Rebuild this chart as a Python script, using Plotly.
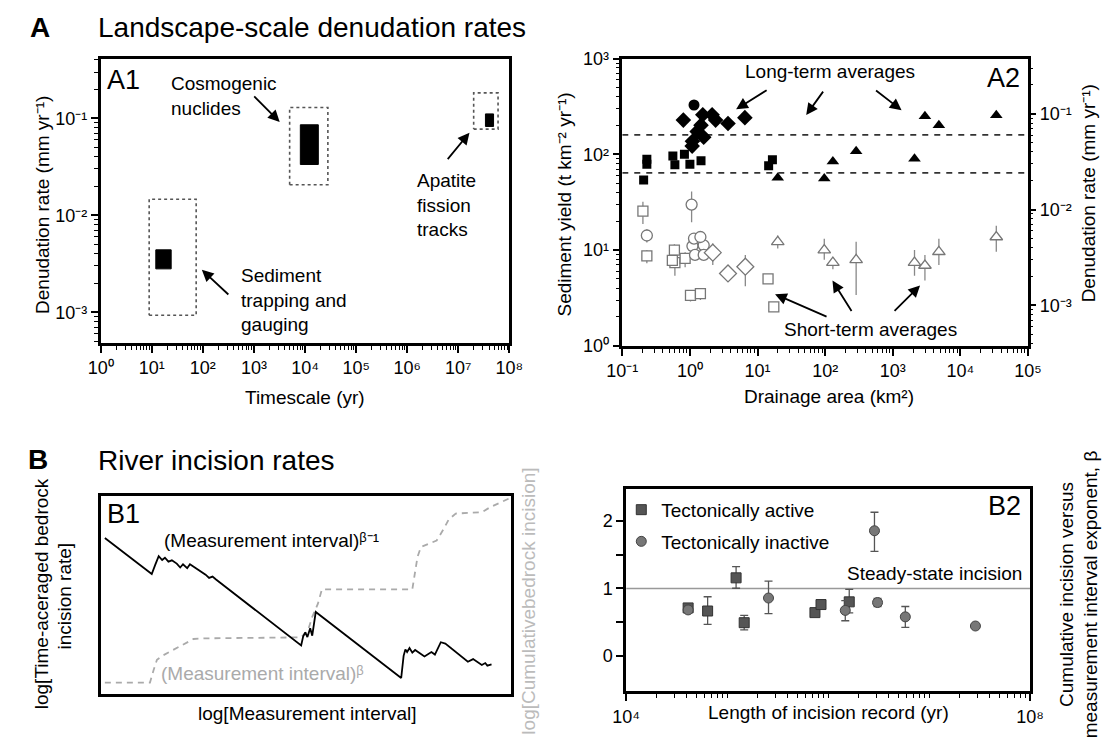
import plotly.graph_objects as go

W, H = 1117, 749
FONT = "Liberation Sans, Arial, sans-serif"

# ---------------- A1 data (timescale yr, denudation mm/yr) ----------------
a1_methods = ["Sediment trapping and gauging", "Cosmogenic nuclides", "Apatite fission tracks"]
a1_range_t_min = [8.9, 5000, 2.0e7]
a1_range_t_max = [74, 28000, 6.0e7]
a1_range_d_min = [0.00093, 0.0206, 0.0774]
a1_range_d_max = [0.0146, 0.129, 0.183]
a1_core_t_min = [12, 8100, 3.4e7]
a1_core_t_max = [24, 18200, 4.9e7]
a1_core_d_min = [0.0028, 0.0334, 0.0824]
a1_core_d_max = [0.0044, 0.0857, 0.111]

# ---------------- A2 data (drainage area km2, sediment yield t/km2/yr) ----------------
lt_dia_x = [0.80, 1.55, 2.13, 2.40, 3.66, 6.5, 1.46, 1.28, 1.60, 1.09, 1.08]
lt_dia_y = [228, 259, 259, 228, 210, 242, 202, 173, 151, 137, 122]
lt_circ_x = [1.15]
lt_circ_y = [328]
lt_sq_x = [0.207, 0.231, 0.231, 0.56, 0.60, 0.83, 1.0, 1.46, 14.6, 16.6]
lt_sq_y = [54, 89, 79, 96, 78, 100, 79, 86, 76, 88]
lt_tri_x = [19.9, 97, 130, 287, 2094, 2985, 4800, 33900]
lt_tri_y = [57, 56, 84, 108, 90, 250, 202, 256]

st_tri_x = [19.9, 97, 130, 287, 2094, 2985, 4800, 33900]
st_tri_y = [12.2, 10, 7.4, 7.9, 7.4, 6.9, 9.6, 13.7]
st_tri_hi = [14.2, 13.1, 8.2, 12.2, 10, 8.9, 13.1, 18]
st_tri_lo = [10.4, 7.9, 6.3, 3.4, 5.4, 4.8, 7.0, 9.6]

st_sq_x = [0.202, 0.231, 0.59, 0.60, 0.55, 0.85, 1.02, 1.43, 14.3, 17.4]
st_sq_y = [25.5, 8.7, 10, 7.4, 7.8, 8.2, 3.36, 3.5, 5.0, 2.55]
st_sq_hi = [32, 10, 11.5, 8.6, 9.0, 9.5, 3.8, 4.0, 5.0, 2.7]
st_sq_lo = [18.7, 7.3, 8.5, 5.4, 6.5, 6.6, 2.9, 3.0, 5.0, 2.4]

st_circ_x = [0.231, 1.06, 1.09, 1.15, 1.19, 1.6, 1.6, 1.43]
st_circ_y = [14.2, 29.9, 11, 13.2, 8.9, 11.2, 8.9, 13.7]
st_circ_hi = [16.5, 41, 12.5, 15, 10, 12.5, 10, 15]
st_circ_lo = [12.0, 19.5, 9.8, 11.5, 7.8, 10, 7.8, 12]

st_dia_x = [2.18, 3.66, 6.6]
st_dia_y = [9.4, 5.7, 6.7]
st_dia_hi = [11.7, 6.6, 8.9]
st_dia_lo = [7.0, 4.8, 4.2]

a2_ref_yields = [160, 64]
a2_x_ends = [0.1, 1e5]

# ---------------- B1 schematic (normalised) ----------------
b1_rate_x = [.0102, .1244, .1328, .1413, .1497, .1565, .1650, .1734, .1853, .1937, .2005, .2107, .2174,
             .2327, .2555, .2640, .2724, .2809, .4882, .4932, .4983, .5034, .5102, .5152, .5186, .5237,
             .7318, .7377, .7420, .7462, .7521, .7589, .7657, .7885, .8054, .8139, .8283, .8393, .8942,
             .9069, .9281, .9365, .9416, .9518]
b1_rate_y = [.787, .6056, .6514, .6956, .6759, .6874, .6678, .6743, .6579, .6383, .6547, .6350, .6547,
             .6350, .6023, .5859, .5925, .5777, .2455, .2913, .3110, .2881, .3322, .2946, .3535, .4141,
             .0818, .1931, .2259, .2128, .2324, .2095, .2226, .1899, .2128, .1997, .2619, .2553, .1637,
             .1768, .1473, .1571, .1440, .1506]
b1_cum_x = [.0102, .1201, .1286, .1371, .1497, .1667, .1920, .2090, .2259, .2555, .4882, .5051, .5152,
            .5288, .5389, .7589, .7640, .7716, .7800, .7970, .8181, .8350, .8477, .8646, .9281, .9492,
            .9704, .9958]
b1_cum_y = [.0589, .0589, .1195, .1735, .1931, .2128, .2422, .2586, .2782, .2815, .2864, .3241, .3895,
            .4550, .5286, .5286, .6023, .6923, .7414, .7578, .7741, .8314, .8805, .9100, .9165, .9427,
            .9624, .9869]

# ---------------- B2 data ----------------
act_x = [41100, 64100, 122700, 147600, 741000, 851000, 1620000]
act_y = [0.71, 0.664, 1.157, 0.49, 0.64, 0.76, 0.80]
act_hi = [0.71, 0.876, 1.325, 0.60, 0.64, 0.76, 0.987]
act_lo = [0.71, 0.466, 1.002, 0.383, 0.64, 0.76, 0.635]
inact_x = [41100, 257000, 2880000, 1480000, 3090000, 5820000, 28800000]
inact_y = [0.68, 0.857, 1.857, 0.673, 0.79, 0.577, 0.441]
inact_hi = [0.68, 1.108, 2.132, 0.818, 0.85, 0.731, 0.441]
inact_lo = [0.68, 0.625, 1.552, 0.519, 0.73, 0.422, 0.441]
steady_x = [1e4, 1e8]
steady_y = [1, 1]

SUP = {"0": "⁰", "1": "¹", "2": "²", "3": "³", "4": "⁴", "5": "⁵", "6": "⁶", "7": "⁷",
       "8": "⁸", "9": "⁹", "-": "⁻"}


def sup(k):
    return "10" + "".join(SUP[c] for c in str(k))


def P(px, py):
    return px / W, 1 - py / H


def dom(a, b, n):
    return [a / n, b / n]


def ydom(top, bottom):
    return [1 - bottom / H, 1 - top / H]


def minor_vals(lo, hi, start=2):
    return [m * 10 ** k for k in range(lo, hi) for m in range(start, 10)]


def errs(y, hi, lo):
    return dict(type="data", symmetric=False,
                array=[h - v for h, v in zip(hi, y)],
                arrayminus=[v - l for v, l in zip(y, lo)])


fig = go.Figure()

# ---- A1 ----
for i in range(3):
    x0, x1 = a1_range_t_min[i], a1_range_t_max[i]
    y0, y1 = a1_range_d_min[i], a1_range_d_max[i]
    fig.add_trace(go.Scatter(x=[x0, x1, x1, x0, x0], y=[y0, y0, y1, y1, y0], mode="lines",
                             line=dict(color="#555", width=1.6, dash="dot"), xaxis="x", yaxis="y",
                             showlegend=False, hoverinfo="skip"))
    x0, x1 = a1_core_t_min[i], a1_core_t_max[i]
    y0, y1 = a1_core_d_min[i], a1_core_d_max[i]
    fig.add_trace(go.Scatter(x=[x0, x1, x1, x0, x0], y=[y0, y0, y1, y1, y0], mode="lines",
                             fill="toself", fillcolor="black", line=dict(color="black", width=1),
                             xaxis="x", yaxis="y", showlegend=False, name=a1_methods[i]))

# ---- A2 ----
for yv in a2_ref_yields:
    fig.add_trace(go.Scatter(x=a2_x_ends, y=[yv, yv], mode="lines",
                             line=dict(color="#333", width=1.8, dash="6px,6px"),
                             xaxis="x2", yaxis="y2", showlegend=False, hoverinfo="skip"))

open_style = dict(color="white", line=dict(color="#777", width=1.3))
ebar_style = dict(color="#888", thickness=1.3, width=0)
for xs, ys, hi, lo, sym, sz in [(st_tri_x, st_tri_y, st_tri_hi, st_tri_lo, "triangle-up", 11),
                                (st_sq_x, st_sq_y, st_sq_hi, st_sq_lo, "square", 10),
                                (st_circ_x, st_circ_y, st_circ_hi, st_circ_lo, "circle", 11),
                                (st_dia_x, st_dia_y, st_dia_hi, st_dia_lo, "diamond", 13)]:
    e = errs(ys, hi, lo)
    e.update(ebar_style)
    fig.add_trace(go.Scatter(x=xs, y=ys, mode="markers", error_y=e,
                             marker=dict(symbol=sym, size=sz, **open_style),
                             xaxis="x2", yaxis="y2", showlegend=False))

for xs, ys, sym, sz in [(lt_dia_x, lt_dia_y, "diamond", 12), (lt_circ_x, lt_circ_y, "circle", 11),
                        (lt_sq_x, lt_sq_y, "square", 9), (lt_tri_x, lt_tri_y, "triangle-up", 11)]:
    fig.add_trace(go.Scatter(x=xs, y=ys, mode="markers",
                             marker=dict(symbol=sym, size=sz, color="black", line=dict(width=0)),
                             xaxis="x2", yaxis="y2", showlegend=False))

# invisible helper for right axis
fig.add_trace(go.Scatter(x=[1], y=[0.01], mode="markers", marker=dict(opacity=0),
                         xaxis="x2", yaxis="y3", showlegend=False, hoverinfo="skip"))

# ---- B1 ----
fig.add_trace(go.Scatter(x=b1_cum_x, y=b1_cum_y, mode="lines",
                         line=dict(color="#aaaaaa", width=1.8, dash="6px,5px"),
                         xaxis="x3", yaxis="y4", showlegend=False))
fig.add_trace(go.Scatter(x=b1_rate_x, y=b1_rate_y, mode="lines",
                         line=dict(color="black", width=1.8),
                         xaxis="x3", yaxis="y4", showlegend=False))

# ---- B2 ----
fig.add_trace(go.Scatter(x=steady_x, y=steady_y, mode="lines", line=dict(color="#999", width=1.5),
                         xaxis="x4", yaxis="y5", showlegend=False, hoverinfo="skip"))
e = errs(act_y, act_hi, act_lo)
e.update(color="#555", thickness=1.3, width=4)
fig.add_trace(go.Scatter(x=act_x, y=act_y, mode="markers", name="Tectonically active",
                         error_y=e, legendgroup="a",
                         marker=dict(symbol="square", size=10, color="#555", line=dict(color="#333", width=1)),
                         xaxis="x4", yaxis="y5"))
e = errs(inact_y, inact_hi, inact_lo)
e.update(color="#555", thickness=1.3, width=4)
fig.add_trace(go.Scatter(x=inact_x, y=inact_y, mode="markers", name="Tectonically inactive",
                         error_y=e, legendgroup="b",
                         marker=dict(symbol="circle", size=10, color="#777", line=dict(color="#444", width=1)),
                         xaxis="x4", yaxis="y5"))

# ---------------- axes ----------------
frame = dict(showline=True, linecolor="black", linewidth=2.5, mirror=True, showgrid=False,
             zeroline=False, tickfont=dict(size=18, color="black", family=FONT))
tick = dict(ticks="outside", ticklen=7, tickwidth=1.5, tickcolor="black")
minor_style = dict(ticks="outside", ticklen=4, tickwidth=1, tickcolor="black", showgrid=False)

layout_axes = dict(
    xaxis=dict(domain=dom(87, 507, W), type="log", range=[0, 8], anchor="y",
               tickvals=[10 ** k for k in range(0, 9)], ticktext=[sup(k) for k in range(0, 9)],
               minor=dict(tickvals=minor_vals(0, 8), **minor_style), **tick, **frame),
    yaxis=dict(domain=ydom(50, 342), type="log", range=[-3.316, -0.385], anchor="x",
               tickvals=[1e-3, 1e-2, 1e-1], ticktext=[sup(-3), sup(-2), sup(-1)],
               minor=dict(tickvals=minor_vals(-4, 0), **minor_style), **tick, **frame),
    xaxis2=dict(domain=dom(623, 1040, W), type="log", range=[-1, 5], anchor="y2",
                tickvals=[10.0 ** k for k in range(-1, 6)], ticktext=[sup(k) for k in range(-1, 6)],
                minor=dict(tickvals=minor_vals(-1, 5), **minor_style), **tick, **frame),
    yaxis2=dict(domain=ydom(50, 345), type="log", range=[0, 3], anchor="x2",
                tickvals=[1, 10, 100, 1000], ticktext=[sup(k) for k in range(0, 4)],
                minor=dict(tickvals=minor_vals(0, 3), **minor_style), **tick, **frame),
    yaxis3=dict(overlaying="y2", side="right", anchor="x2", type="log", range=[-3.424, -0.424],
                tickvals=[1e-3, 1e-2, 1e-1], ticktext=[sup(-3), sup(-2), sup(-1)],
                showline=False, showgrid=False, zeroline=False,
                tickfont=dict(size=18, color="black", family=FONT),
                minor=dict(tickvals=minor_vals(-4, 0), **minor_style), **tick),
    xaxis3=dict(domain=dom(87, 509, W), range=[0, 1], anchor="y4", showticklabels=False, ticks="",
                **frame),
    yaxis4=dict(domain=ydom(499, 703), range=[0, 1], anchor="x3", showticklabels=False, ticks="",
                **frame),
    xaxis4=dict(domain=dom(627, 1042, W), type="log", range=[4, 8], anchor="y5",
                tickvals=[1e4, 1e8], ticktext=[sup(4), sup(8)],
                minor=dict(tickvals=minor_vals(4, 8, start=1)[1:], **minor_style), **tick, **frame),
    yaxis5=dict(domain=ydom(492, 700), range=[-0.53, 2.48], anchor="x4",
                tickvals=[0, 1, 2], ticktext=["0", "1", "2"],
                minor=dict(tickvals=[0.5, 1.5], ticks="outside", ticklen=7, tickwidth=1.5,
                           tickcolor="black", showgrid=False),
                **tick, **frame),
)

# ---------------- annotations ----------------
ann = []


def text(px, py, s, size=19, xanchor="left", color="black", angle=0, bold=False, align="left"):
    x, y = P(px, py)
    if bold:
        s = "<b>%s</b>" % s
    ann.append(dict(x=x, y=y, xref="paper", yref="paper", text=s, showarrow=False,
                    xanchor=xanchor, yanchor="middle", textangle=angle, align=align,
                    font=dict(size=size, color=color, family=FONT)))


def arrow(tx, ty, hx, hy):
    x, y = P(hx, hy)
    ann.append(dict(x=x, y=y, xref="paper", yref="paper", text="", showarrow=True,
                    ax=tx - hx, ay=ty - hy, axref="pixel", ayref="pixel",
                    arrowhead=2, arrowsize=1.3, arrowwidth=1.8, arrowcolor="black"))


# headers
text(12, 18, "A", size=28, bold=True)
text(82, 18, "Landscape-scale denudation rates", size=28)
text(10, 462, "B", size=28, bold=True)
text(82, 463, "River incision rates", size=28)

# A1
text(91, 72, "A1", size=27)
text(157, 88, "Cosmogenic<br>nuclides", align="left")
arrow(244, 88, 271, 115)
text(410, 200, "Apatite<br>fission<br>tracks", align="left")
arrow(443, 154, 466, 126)
text(229, 298, "Sediment<br>trapping and<br>gauging", align="left")
arrow(219, 293, 191, 267)
text(297, 398, "Timescale (yr)", xanchor="center")
text(27, 200, "Denudation rate (mm yr⁻¹)", xanchor="center", angle=-90)

# A2
text(1034, 70, "A2", size=27, xanchor="right")
text(836, 63, "Long-term averages", xanchor="center")
arrow(772, 82, 740, 102)
arrow(830, 83, 812, 108)
arrow(883, 82, 910, 103)
text(878, 328, "Short-term averages", xanchor="center")
arrow(833, 315, 780, 292)
arrow(859, 310, 839, 278)
arrow(902, 310, 929, 283)
text(835, 397, "Drainage area (km²)", xanchor="center")
text(564, 200, "Sediment yield (t km⁻² yr⁻¹)", xanchor="center", angle=-90)
text(1103, 188, "Denudation rate (mm yr⁻¹)", xanchor="center", angle=-90)

# B1
text(91, 518, "B1", size=27)
text(150, 545, "(Measurement interval)ᵝ⁻¹")
text(147, 682, "(Measurement interval)ᵝ", color="#aaaaaa")
text(300, 723, "log[Measurement interval]", xanchor="center")
text(27, 600, "log[Time-aceraged bedrock", xanchor="center", angle=-90)
text(50, 602, "incision rate]", xanchor="center", angle=-90)
text(527, 607, "log[Cumulativebedrock incision]", xanchor="center", angle=-90, color="#bbbbbb")

# B2
text(1035, 510, "B2", size=27, xanchor="right")
text(1036, 579, "Steady-state incision", xanchor="right")
text(835, 722, "Length of incision record (yr)", xanchor="center")
text(1080, 600, "Cumulative incision versus", xanchor="center", angle=-90)
text(1105, 600, "measurement interval exponent, β", xanchor="center", angle=-90)

fig.update_layout(
    width=W, height=H, autosize=False, margin=dict(l=0, r=0, t=0, b=0),
    paper_bgcolor="white", plot_bgcolor="white",
    font=dict(family=FONT, size=19, color="black"),
    annotations=ann,
    showlegend=True,
    legend=dict(x=622 / W, y=1 - 494 / H, xanchor="left", yanchor="top",
                bgcolor="rgba(0,0,0,0)", font=dict(size=19, family=FONT, color="black"),
                itemwidth=30, tracegroupgap=4, traceorder="grouped"),
    **layout_axes,
)

fig.write_html("out.html")
